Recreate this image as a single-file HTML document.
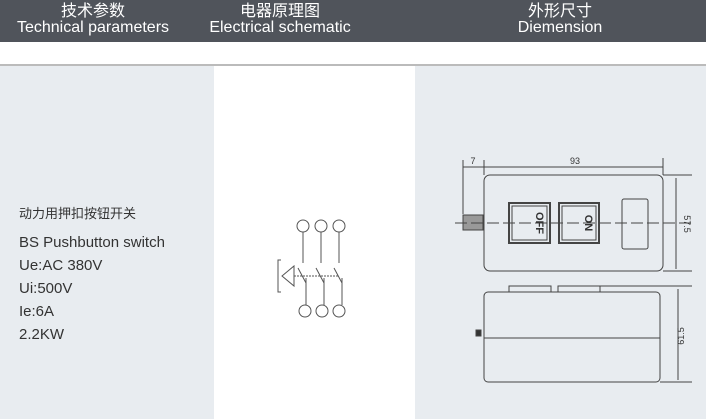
<!DOCTYPE html><html><head><style>
body{margin:0;width:706px;height:419px;overflow:hidden;background:#fff;font-family:"Liberation Sans","Noto Sans CJK SC",sans-serif;position:relative}
.h{position:absolute;top:0;left:0;width:706px;height:42px;background:#50545b}
.ht{position:absolute;color:#fff;text-align:center;font-size:16px;line-height:16px;top:4px}
.col{position:absolute;top:66px;height:353px}
.t{position:absolute;left:19px;color:#333;font-size:15px}
</style></head><body>
<div class="h"></div>
<div class="ht" style="left:0;width:186px">技术参数<br>Technical parameters</div>
<div class="ht" style="left:198px;width:164px">电器原理图<br>Electrical schematic</div>
<div class="ht" style="left:478px;width:164px">外形尺寸<br>Diemension</div>
<div style="position:absolute;top:64px;left:0;width:706px;height:2px;background:#bbb"></div>
<div class="col" style="left:0;width:214px;background:#e8ecf0"></div>
<div class="col" style="left:214px;width:201px;background:#fff"></div>
<div class="col" style="left:415px;width:291px;background:#e8ecf0"></div>
<div class="t" style="top:203px;font-size:13px">动力用押扣按钮开关</div>
<div class="t" style="top:234px">BS Pushbutton switch</div>
<div class="t" style="top:257px">Ue:AC 380V</div>
<div class="t" style="top:280px">Ui:500V</div>
<div class="t" style="top:303px">Ie:6A</div>
<div class="t" style="top:326px">2.2KW</div>
<svg style="position:absolute;left:0;top:0" width="706" height="419" fill="none" stroke="#555" stroke-width="1">
<g>
<circle cx="303" cy="226" r="6"/><circle cx="321" cy="226" r="6"/><circle cx="339" cy="226" r="6"/>
<line x1="303" y1="232" x2="303" y2="263"/><line x1="321" y1="232" x2="321" y2="263"/><line x1="339" y1="232" x2="339" y2="263"/>
<line x1="298" y1="268" x2="306" y2="283"/><line x1="316" y1="268" x2="324" y2="283"/><line x1="334" y1="268" x2="342" y2="283"/>
<line x1="306" y1="278" x2="306" y2="305"/><line x1="324" y1="278" x2="324" y2="305"/><line x1="342" y1="278" x2="342" y2="305"/>
<circle cx="305" cy="311" r="6"/><circle cx="322" cy="311" r="6"/><circle cx="339" cy="311" r="6"/>
<polyline points="281,260 278,260 278,292 281,292"/>
<polygon points="282,276 294,266 294,286"/>
<line x1="294" y1="276" x2="338" y2="276" stroke-dasharray="2,1"/>
</g>
<g stroke="#444">
<rect x="484" y="175" width="179" height="96" rx="6"/>
<rect x="509" y="203" width="41" height="40" stroke-width="2"/><rect x="512" y="206" width="35" height="34"/>
<rect x="559" y="203" width="40" height="40" stroke-width="2"/><rect x="562" y="206" width="34" height="34"/>
<rect x="622" y="199" width="26" height="50" rx="2"/>
<rect x="463" y="215" width="20" height="15" fill="#999"/>
<line x1="455" y1="223" x2="692" y2="223" stroke-dasharray="12,4"/>
<line x1="463" y1="160" x2="463" y2="214"/><line x1="484" y1="160" x2="484" y2="175"/><line x1="663" y1="158" x2="663" y2="175"/>
<line x1="463" y1="167" x2="663" y2="167"/>
<line x1="663" y1="175" x2="692" y2="175"/><line x1="663" y1="271" x2="692" y2="271"/>
<line x1="676" y1="178" x2="676" y2="269"/>
<rect x="484" y="292" width="176" height="90" rx="4"/>
<line x1="484" y1="338" x2="660" y2="338"/>
<rect x="509" y="286" width="42" height="6"/><rect x="558" y="286" width="42" height="6"/>
<rect x="476" y="330" width="5" height="6" fill="#333"/>
<line x1="600" y1="286" x2="692" y2="286"/><line x1="660" y1="382" x2="692" y2="382"/>
<line x1="678" y1="289" x2="678" y2="380"/>
</g>
<g fill="#333" stroke="none" font-size="9" font-family="Liberation Sans">
<text x="575" y="164" text-anchor="middle">93</text>
<text x="473" y="164" text-anchor="middle">7</text>
<text transform="translate(684,224) rotate(90)" text-anchor="middle">57.5</text>
<text transform="translate(684,336) rotate(-90)" text-anchor="middle">61.5</text>
<text transform="translate(536,223) rotate(90)" text-anchor="middle" font-size="11" font-weight="bold">OFF</text>
<text transform="translate(585,223) rotate(90)" text-anchor="middle" font-size="11" font-weight="bold">ON</text>
</g>
</svg>
</body></html>
